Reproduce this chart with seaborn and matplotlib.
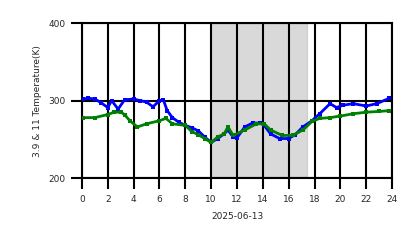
import matplotlib
matplotlib.use("Agg")
import matplotlib.pyplot as plt
import numpy as np
import pandas as pd
import seaborn as sns

# ==================== data ====================
hours_b = [0.1, 0.5, 1, 1.5, 2, 2.3, 2.8, 3.3, 4, 4.5, 5, 5.5, 6, 6.3, 6.6, 7, 7.5, 8,
           8.5, 9, 9.5, 10, 10.5, 11, 11.3, 11.7, 12, 12.6, 13.2, 13.8, 14.1, 14.6,
           15.3, 16, 16.5, 17.1, 17.8, 18.4, 19.2, 19.7, 20.2, 21, 22, 22.8, 23.8]
temp_39 = [302, 303, 302, 297, 291, 300, 289, 301, 302, 300, 298, 292, 300, 301, 287,
           278, 272, 268, 265, 261, 253, 246, 251, 257, 262, 253, 252, 266, 271, 271,
           268, 257, 251, 251, 256, 266, 274, 283, 296, 291, 294, 296, 293, 296, 303]

hours_g = [0.1, 1, 2, 2.5, 3, 3.3, 3.7, 4.3, 5, 6, 6.5, 7, 8, 8.5, 9, 9.5, 10, 10.5,
           11, 11.3, 11.7, 12.6, 13.5, 14.1, 14.6, 15.5, 16.3, 17.1, 17.8, 18.4, 19.2,
           20, 21, 22, 23, 23.8]
temp_11 = [278, 278, 282, 285, 285, 282, 274, 266, 270, 274, 277, 270, 268, 260, 256,
           251, 246, 253, 257, 266, 255, 262, 270, 270, 262, 255, 255, 262, 273, 277,
           278, 280, 283, 285, 286, 287]

night_start, night_end = 10, 17.4
x_ticks = list(range(0, 25, 2))
y_ticks = [200, 300, 400]

df_b = pd.DataFrame({'hour': hours_b, 'temp': temp_39})
df_g = pd.DataFrame({'hour': hours_g, 'temp': temp_11})

# ==================== figure ====================
sns.set_style("white")
plt.rcParams['font.family'] = ['DejaVu Sans']

fig = plt.figure(figsize=(4.18, 2.48), dpi=100)
ax = fig.add_axes([0.196, 0.282, 0.742, 0.625])

ax.axvspan(night_start, night_end, color='#a0a0a0', alpha=0.4, lw=0.8, zorder=0)

sns.lineplot(data=df_b, x='hour', y='temp', color='blue', marker='s', markersize=3,
             markeredgewidth=0, linewidth=2.0, ax=ax, zorder=3)
sns.lineplot(data=df_g, x='hour', y='temp', color='green', marker='s', markersize=3,
             markeredgewidth=0, linewidth=2.0, ax=ax, zorder=4)

ax.set_xlim(0, 24)
ax.set_ylim(200, 400)
ax.set_xticks(x_ticks)
ax.set_yticks(y_ticks)
ax.grid(True, color='black', linewidth=1.5, zorder=1)
ax.set_axisbelow(True)
ax.tick_params(axis='both', length=8, width=1.5, color='black', labelsize=6.5, pad=4,
               bottom=True, left=True)
for s in ax.spines.values():
    s.set_color('black')
    s.set_linewidth(1.5)

ax.set_xlabel('2025-06-13', fontsize=6.5, labelpad=6)
ax.set_ylabel('3.9 & 11 Temperature(K)', fontsize=6.5, labelpad=4)

plt.savefig('out.png', dpi=100)
